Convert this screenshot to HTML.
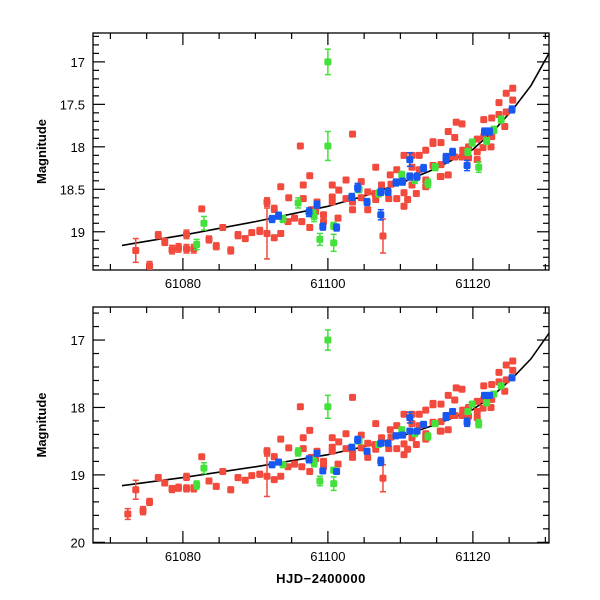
<!DOCTYPE html>
<html><head><meta charset="utf-8"><style>
body{margin:0;background:#fff;}
svg{display:block;font-family:"Liberation Sans",sans-serif;}
</style></head><body>
<svg id="chart" width="600" height="600" viewBox="0 0 600 600" xmlns="http://www.w3.org/2000/svg"></svg>
<script>
// data: [day (61000+), magnitude, error]
const redPts = [[72.4,19.58,0.08],[73.5,19.22,0.14],[74.5,19.53,0.06],[75.4,19.4,0.05],[76.6,19.04,0.04],[77.5,19.12,0.04],[78.5,19.21,0.05],[79.4,19.19,0.05],[80.5,19.03,0.05],[80.5,19.2,0.05],[81.5,19.2,0.05],[82.6,18.73,0.03],[83.6,19.09,0.04],[84.6,19.17,0.04],[85.5,18.95,0.03],[86.6,19.22,0.04],[87.6,19.04,0.04],[88.6,19.08,0.03],[89.5,19.01,0.03],[90.6,18.99,0.04],[91.6,19.02,0.3],[91.6,18.65,0.05],[92.6,19.07,0.03],[92.6,18.73,0.04],[93.5,19.02,0.03],[93.5,18.47,0.02],[94.6,18.6,0.03],[94.5,18.88,0.03],[95.4,18.84,0.03],[96.6,18.45,0.03],[96.6,18.61,0.03],[96.4,18.88,0.03],[97.5,18.95,0.03],[97.5,18.34,0.03],[97.7,18.74,0.03],[98.5,18.65,0.03],[98.3,18.76,0.03],[99.4,18.8,0.03],[99.4,18.88,0.03],[100.6,18.45,0.03],[100.6,18.59,0.03],[100.6,18.65,0.03],[101.4,18.84,0.03],[101.5,18.51,0.03],[102.5,18.39,0.03],[103.4,17.85,0.02],[102.5,18.61,0.03],[103.4,18.65,0.03],[103.4,18.74,0.03],[104.6,18.41,0.03],[104.6,18.6,0.03],[105.5,18.74,0.03],[105.5,18.53,0.03],[106.6,18.24,0.02],[106.5,18.55,0.03],[106.6,18.62,0.03],[107.4,18.45,0.03],[107.6,19.05,0.2],[108.6,18.33,0.03],[108.7,18.44,0.03],[108.4,18.61,0.03],[109.5,18.27,0.03],[109.5,18.61,0.03],[110.5,18.1,0.03],[111.6,18.1,0.03],[111.6,18.24,0.03],[110.5,18.54,0.03],[110.5,18.7,0.03],[111.6,18.45,0.03],[112.6,18.1,0.03],[112.6,18.27,0.03],[113.5,18.04,0.03],[113.5,18.39,0.03],[113.5,18.47,0.03],[114.5,17.96,0.03],[115.6,18.35,0.03],[116.6,17.82,0.03],[125.5,17.31,0.03],[124.6,17.37,0.03],[125.5,17.45,0.03],[123.6,17.48,0.03],[124.6,17.59,0.03],[123.6,17.62,0.03],[122.6,17.66,0.03],[124.4,17.76,0.03],[121.5,17.68,0.03],[117.7,17.71,0.03],[118.5,17.73,0.03],[121.5,17.88,0.03],[122.6,17.88,0.03],[120.6,17.91,0.03],[117.5,17.89,0.03],[114.5,17.94,0.03],[115.6,17.95,0.03],[122.5,18.0,0.03],[121.4,18.01,0.03],[119.4,18.0,0.03],[118.6,18.04,0.03],[120.6,18.06,0.03],[117.5,18.12,0.03],[118.5,18.12,0.03],[116.6,18.12,0.03],[120.6,18.15,0.03],[119.4,18.13,0.03],[115.6,18.21,0.03],[114.5,18.22,0.03],[116.6,18.33,0.03],[115.5,18.35,0.03],[96.2,17.99,0.02],[112.2,18.55,0.03],[111.0,18.62,0.03]];
const greenPts = [[81.9,19.15,0.06],[82.9,18.9,0.08],[93.8,18.85,0.04],[95.9,18.66,0.06],[97.9,18.78,0.04],[98.1,18.82,0.06],[98.9,19.09,0.07],[100.0,17.0,0.15],[100.0,17.99,0.17],[100.8,18.93,0.04],[100.8,19.13,0.1],[104.3,18.5,0.04],[110.2,18.33,0.04],[113.8,18.43,0.05],[114.8,18.24,0.04],[119.9,17.95,0.04],[119.3,18.06,0.04],[120.8,18.24,0.06],[121.9,17.93,0.04],[122.9,17.8,0.04],[123.9,17.68,0.04],[112.0,18.38,0.05],[107.0,18.55,0.04]];
const bluePts = [[92.3,18.85,0.04],[93.2,18.81,0.04],[97.4,18.77,0.05],[98.5,18.68,0.04],[99.3,18.94,0.04],[101.2,18.95,0.04],[103.3,18.59,0.04],[104.1,18.48,0.05],[105.4,18.65,0.04],[107.3,18.53,0.04],[107.3,18.8,0.06],[108.3,18.53,0.04],[109.4,18.42,0.04],[110.3,18.41,0.04],[111.3,18.15,0.08],[111.3,18.35,0.04],[112.3,18.35,0.04],[113.2,18.25,0.04],[116.3,18.12,0.04],[116.3,18.15,0.04],[117.2,18.06,0.04],[119.2,18.22,0.06],[121.6,17.82,0.04],[122.3,17.82,0.04],[125.4,17.56,0.04]];
const curveDays = [71.6,73,80,90,100,105,110,115,120,123,125.5,128,130.5];
const curveMags = [19.16,19.14,19.04,18.88,18.7,18.58,18.43,18.25,18.03,17.8,17.56,17.28,16.9];
const xTickLabels = [61080,61100,61120];
const topYLabels = [17,17.5,18,18.5,19];
const botYLabels = [17,18,19,20];

const NS="http://www.w3.org/2000/svg";
const svg=document.getElementById('chart');
function mk(tag,attrs,parent){const e=document.createElementNS(NS,tag);for(const k in attrs)e.setAttribute(k,attrs[k]);(parent||svg).appendChild(e);return e;}
const X0=93,X1=549,D0=67.6,D1=130.5;
function xs(d){return X0+(d-D0)*(X1-X0)/(D1-D0);}
const panels=[
 {name:'top',y0:33,y1:270,m0:16.66,m1:19.45,labels:topYLabels,minor:0.1,showX:false},
 {name:'bottom',y0:307,y1:543,m0:16.51,m1:20.01,labels:botYLabels,minor:0.2,showX:true}
];
const defs=mk('defs',{});
panels.forEach((p,pi)=>{
  const ys=m=>p.y0+(m-p.m0)*(p.y1-p.y0)/(p.m1-p.m0);
  const cp=mk('clipPath',{id:'clip'+pi},defs);
  mk('rect',{x:X0,y:p.y0,width:X1-X0,height:p.y1-p.y0},cp);
  const g=mk('g',{});
  
  
  const frame=mk('rect',{x:X0,y:p.y0,width:X1-X0,height:p.y1-p.y0,fill:'none',stroke:'#000','stroke-width':1.3},g);
  
  
  for(let d=70;d<=130;d+=5){
    const xx=xs(d);const major=(d%20===0);const L=major?12:6;
    mk('line',{x1:xx,x2:xx,y1:p.y1,y2:p.y1-L,stroke:'#000','stroke-width':1.2},g);
    mk('line',{x1:xx,x2:xx,y1:p.y0,y2:p.y0+L,stroke:'#000','stroke-width':1.2},g);
  }
  xTickLabels.forEach(v=>{
    const t=mk('text',{x:xs(v-61000),y:p.y1+18,'text-anchor':'middle','font-size':13},g);
    t.textContent=v;
    
    
  });
  const n=Math.round((p.m1-17)/p.minor);
  for(let i=-5;i<=n+5;i++){
    const m=17+i*p.minor; if(m<p.m0||m>p.m1)continue;
    const y=ys(m);
    const major=p.labels.some(v=>Math.abs(v-m)<1e-6);const L=major?12:6;
    mk('line',{x1:X0,x2:X0+L,y1:y,y2:y,stroke:'#000','stroke-width':1.2},g);
    mk('line',{x1:X1,x2:X1-L,y1:y,y2:y,stroke:'#000','stroke-width':1.2},g);
  }
  p.labels.forEach(v=>{
    const t=mk('text',{x:X0-8,y:ys(v)+5,'text-anchor':'end','font-size':13},g);
    t.textContent=v;
    
    
  });
  const yt=mk('text',{x:0,y:0,'font-size':13,'font-weight':'bold','text-anchor':'middle',transform:`translate(46,${(p.y0+p.y1)/2}) rotate(-90)`},g);
  yt.textContent='Magnitude';
  
  
  if(p.showX){
    const xt=mk('text',{x:(X0+X1)/2,y:p.y1+40,'text-anchor':'middle','font-size':13,'font-weight':'bold','letter-spacing':'0.5'},g);
    xt.textContent='HJD−2400000';
    
    
  }
  const pg=mk('g',{'clip-path':`url(#clip${pi})`},g);
  let dpath='';curveDays.forEach((d,i)=>{dpath+=(i?'L':'M')+xs(d).toFixed(1)+','+ys(curveMags[i]).toFixed(1);});
  const c=mk('path',{d:dpath,fill:'none',stroke:'#000','stroke-width':1.6},pg);
  
  
  const sets=[[redPts,'#f24a3c','red'],[greenPts,'#44e03c','green'],[bluePts,'#1658f0','blue']];
  sets.forEach(([arr,col,nm])=>{
    arr.forEach(pt=>{
      const x=xs(pt[0]),y=ys(pt[1]),ey=pt[2]*(p.y1-p.y0)/(p.m1-p.m0);
      const pg2=mk('g',{},pg);
      
      
      mk('line',{x1:x,x2:x,y1:y-ey,y2:y+ey,stroke:col,'stroke-width':1.5},pg2);
      mk('line',{x1:x-3,x2:x+3,y1:y-ey,y2:y-ey,stroke:col,'stroke-width':1.5},pg2);
      mk('line',{x1:x-3,x2:x+3,y1:y+ey,y2:y+ey,stroke:col,'stroke-width':1.5},pg2);
      mk('rect',{x:x-3.5,y:y-3.5,width:7,height:7,rx:1.5,fill:col},pg2);
    });
  });
});
</script>
</body></html>
